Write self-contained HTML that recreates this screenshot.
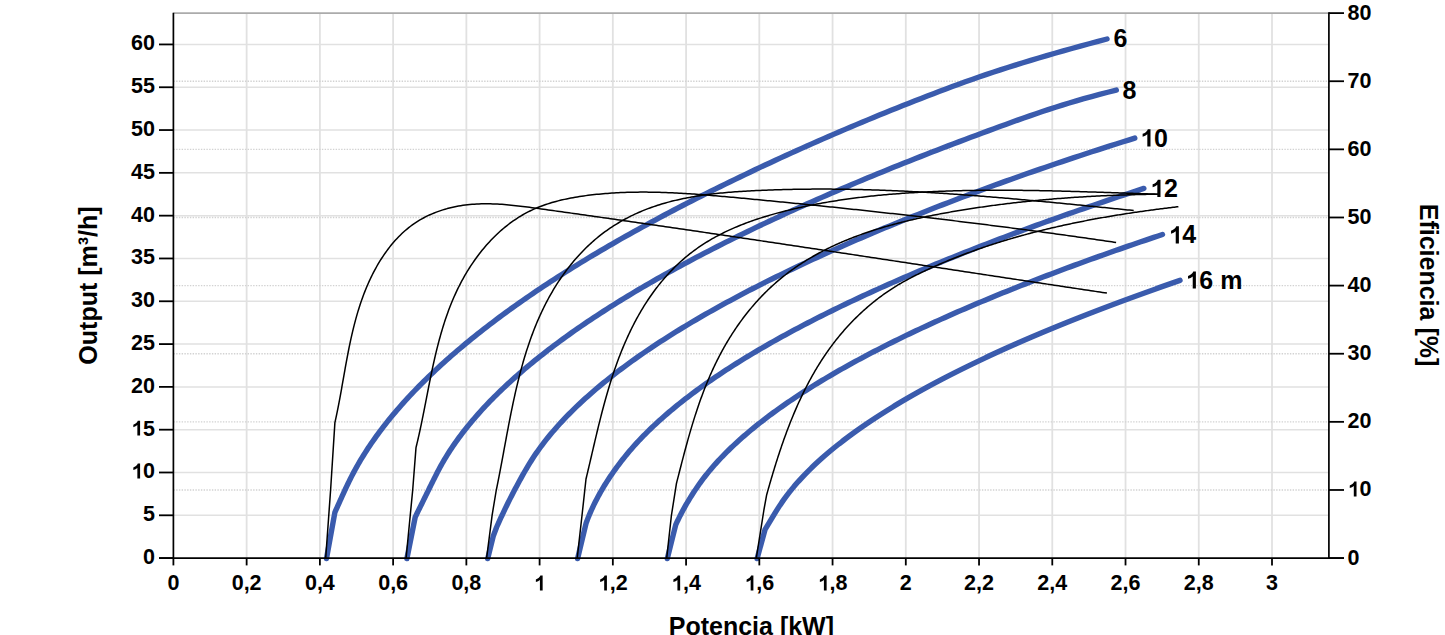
<!DOCTYPE html>
<html><head><meta charset="utf-8"><title>Chart</title><style>
html,body{margin:0;padding:0;background:#fff;overflow:hidden;}
svg{display:block;}
text{font-family:"Liberation Sans",sans-serif;font-weight:bold;fill:#000;}
.t{font-size:21.5px;}
.c{font-size:25px;}
.h{font-size:25px;}
.o1{fill-opacity:0;}
</style></head><body>
<svg width="1445" height="635" viewBox="0 0 1445 635">
<rect width="1445" height="635" fill="#fff"/>
<line x1="246.64" y1="13.10" x2="246.64" y2="558.10" stroke="#e1e1e1" stroke-width="1.8"/>
<line x1="319.88" y1="13.10" x2="319.88" y2="558.10" stroke="#e1e1e1" stroke-width="1.8"/>
<line x1="393.12" y1="13.10" x2="393.12" y2="558.10" stroke="#e1e1e1" stroke-width="1.8"/>
<line x1="466.36" y1="13.10" x2="466.36" y2="558.10" stroke="#e1e1e1" stroke-width="1.8"/>
<line x1="539.60" y1="13.10" x2="539.60" y2="558.10" stroke="#e1e1e1" stroke-width="1.8"/>
<line x1="612.84" y1="13.10" x2="612.84" y2="558.10" stroke="#e1e1e1" stroke-width="1.8"/>
<line x1="686.08" y1="13.10" x2="686.08" y2="558.10" stroke="#e1e1e1" stroke-width="1.8"/>
<line x1="759.32" y1="13.10" x2="759.32" y2="558.10" stroke="#e1e1e1" stroke-width="1.8"/>
<line x1="832.56" y1="13.10" x2="832.56" y2="558.10" stroke="#e1e1e1" stroke-width="1.8"/>
<line x1="905.80" y1="13.10" x2="905.80" y2="558.10" stroke="#e1e1e1" stroke-width="1.8"/>
<line x1="979.04" y1="13.10" x2="979.04" y2="558.10" stroke="#e1e1e1" stroke-width="1.8"/>
<line x1="1052.28" y1="13.10" x2="1052.28" y2="558.10" stroke="#e1e1e1" stroke-width="1.8"/>
<line x1="1125.52" y1="13.10" x2="1125.52" y2="558.10" stroke="#e1e1e1" stroke-width="1.8"/>
<line x1="1198.76" y1="13.10" x2="1198.76" y2="558.10" stroke="#e1e1e1" stroke-width="1.8"/>
<line x1="1272.00" y1="13.10" x2="1272.00" y2="558.10" stroke="#e1e1e1" stroke-width="1.8"/>
<line x1="173.40" y1="515.30" x2="1328.90" y2="515.30" stroke="#e1e1e1" stroke-width="1.5"/>
<line x1="173.40" y1="472.49" x2="1328.90" y2="472.49" stroke="#e1e1e1" stroke-width="1.5"/>
<line x1="173.40" y1="429.69" x2="1328.90" y2="429.69" stroke="#e1e1e1" stroke-width="1.5"/>
<line x1="173.40" y1="386.88" x2="1328.90" y2="386.88" stroke="#e1e1e1" stroke-width="1.5"/>
<line x1="173.40" y1="344.08" x2="1328.90" y2="344.08" stroke="#e1e1e1" stroke-width="1.5"/>
<line x1="173.40" y1="301.27" x2="1328.90" y2="301.27" stroke="#e1e1e1" stroke-width="1.5"/>
<line x1="173.40" y1="258.47" x2="1328.90" y2="258.47" stroke="#e1e1e1" stroke-width="1.5"/>
<line x1="173.40" y1="215.66" x2="1328.90" y2="215.66" stroke="#e1e1e1" stroke-width="1.5"/>
<line x1="173.40" y1="172.86" x2="1328.90" y2="172.86" stroke="#e1e1e1" stroke-width="1.5"/>
<line x1="173.40" y1="130.05" x2="1328.90" y2="130.05" stroke="#e1e1e1" stroke-width="1.5"/>
<line x1="173.40" y1="87.25" x2="1328.90" y2="87.25" stroke="#e1e1e1" stroke-width="1.5"/>
<line x1="173.40" y1="44.44" x2="1328.90" y2="44.44" stroke="#e1e1e1" stroke-width="1.5"/>
<line x1="173.40" y1="489.98" x2="1328.90" y2="489.98" stroke="#d2d2d2" stroke-width="1.3" stroke-dasharray="1.4 1.35"/>
<line x1="173.40" y1="421.85" x2="1328.90" y2="421.85" stroke="#d2d2d2" stroke-width="1.3" stroke-dasharray="1.4 1.35"/>
<line x1="173.40" y1="353.73" x2="1328.90" y2="353.73" stroke="#d2d2d2" stroke-width="1.3" stroke-dasharray="1.4 1.35"/>
<line x1="173.40" y1="285.60" x2="1328.90" y2="285.60" stroke="#d2d2d2" stroke-width="1.3" stroke-dasharray="1.4 1.35"/>
<line x1="173.40" y1="217.48" x2="1328.90" y2="217.48" stroke="#d2d2d2" stroke-width="1.3" stroke-dasharray="1.4 1.35"/>
<line x1="173.40" y1="149.35" x2="1328.90" y2="149.35" stroke="#d2d2d2" stroke-width="1.3" stroke-dasharray="1.4 1.35"/>
<line x1="173.40" y1="81.23" x2="1328.90" y2="81.23" stroke="#d2d2d2" stroke-width="1.3" stroke-dasharray="1.4 1.35"/>
<line x1="173.40" y1="13.10" x2="1328.90" y2="13.10" stroke="#ababab" stroke-width="1.6"/>
<path d="M326.50,558.60 L334.90,512.30 L335.97,509.92 L337.04,507.54 L338.11,505.16 L339.17,502.79 L340.24,500.41 L341.31,498.03 L342.38,495.65 L343.46,493.27 L344.56,490.89 L345.67,488.52 L346.80,486.14 L347.93,483.76 L349.09,481.38 L350.26,479.00 L351.45,476.62 L352.68,474.25 L353.94,471.87 L355.23,469.49 L356.55,467.11 L357.89,464.73 L359.27,462.35 L360.67,459.98 L362.11,457.60 L363.58,455.22 L365.07,452.84 L366.60,450.46 L368.15,448.08 L369.74,445.71 L371.35,443.33 L372.99,440.95 L374.67,438.57 L376.37,436.19 L378.10,433.81 L379.87,431.43 L381.66,429.06 L383.48,426.68 L385.33,424.30 L387.21,421.92 L389.12,419.54 L391.06,417.16 L393.03,414.79 L395.03,412.41 L397.06,410.03 L399.12,407.65 L401.21,405.27 L403.33,402.89 L405.48,400.52 L407.66,398.14 L409.87,395.76 L412.10,393.38 L414.37,391.00 L416.67,388.62 L418.99,386.25 L421.35,383.87 L423.74,381.49 L426.15,379.11 L428.60,376.73 L431.07,374.35 L433.58,371.97 L436.11,369.60 L438.68,367.22 L441.27,364.84 L443.89,362.46 L446.55,360.08 L449.23,357.70 L451.94,355.33 L454.69,352.95 L457.46,350.57 L460.26,348.19 L463.09,345.81 L465.95,343.43 L468.84,341.06 L471.76,338.68 L474.71,336.30 L477.69,333.92 L480.70,331.54 L483.74,329.16 L486.81,326.79 L489.91,324.41 L493.04,322.03 L496.20,319.65 L499.38,317.27 L502.60,314.89 L505.85,312.52 L509.12,310.14 L512.43,307.76 L515.77,305.38 L519.13,303.00 L522.53,300.62 L525.95,298.24 L529.41,295.87 L532.89,293.49 L536.41,291.11 L539.95,288.73 L543.53,286.35 L547.13,283.97 L550.76,281.60 L554.42,279.22 L558.12,276.84 L561.84,274.46 L565.59,272.08 L569.37,269.70 L573.18,267.33 L577.02,264.95 L580.90,262.57 L584.80,260.19 L588.73,257.81 L592.69,255.43 L596.67,253.06 L600.69,250.68 L604.74,248.30 L608.82,245.92 L612.93,243.54 L617.07,241.16 L621.23,238.78 L625.43,236.41 L629.66,234.03 L633.92,231.65 L638.20,229.27 L642.52,226.89 L646.86,224.51 L651.24,222.14 L655.64,219.76 L660.08,217.38 L664.54,215.00 L669.04,212.62 L673.56,210.24 L678.11,207.87 L682.70,205.49 L687.31,203.11 L691.95,200.73 L696.62,198.35 L701.33,195.97 L706.06,193.60 L710.82,191.22 L715.61,188.84 L720.43,186.46 L725.28,184.08 L730.16,181.70 L735.07,179.33 L740.01,176.95 L744.98,174.57 L749.98,172.19 L755.01,169.81 L760.07,167.43 L765.15,165.05 L770.27,162.68 L775.42,160.30 L780.60,157.92 L785.80,155.54 L791.04,153.16 L796.31,150.78 L801.60,148.41 L806.93,146.03 L812.28,143.65 L817.67,141.27 L823.08,138.89 L828.53,136.51 L834.01,134.14 L839.53,131.76 L845.09,129.38 L850.70,127.00 L856.34,124.62 L862.02,122.24 L867.75,119.87 L873.51,117.49 L879.32,115.11 L885.16,112.73 L891.05,110.35 L896.98,107.97 L902.94,105.59 L908.95,103.22 L915.00,100.84 L921.10,98.46 L927.24,96.08 L933.42,93.70 L939.65,91.32 L945.92,88.95 L952.26,86.57 L958.72,84.19 L965.31,81.81 L972.05,79.43 L978.91,77.05 L985.91,74.68 L993.04,72.30 L1000.31,69.92 L1007.71,67.54 L1015.25,65.16 L1022.92,62.78 L1030.73,60.41 L1038.67,58.03 L1046.74,55.65 L1054.95,53.27 L1063.29,50.89 L1071.77,48.51 L1080.38,46.14 L1089.13,43.76 L1098.01,41.38 L1107.02,39.00" fill="none" stroke="#3a5bad" stroke-width="5.4" stroke-linecap="round" stroke-linejoin="round"/>
<path d="M406.90,558.60 L415.20,517.10 L416.26,514.95 L417.31,512.81 L418.37,510.66 L419.43,508.52 L420.48,506.37 L421.54,504.23 L422.60,502.08 L423.65,499.93 L424.71,497.79 L425.77,495.64 L426.82,493.50 L427.88,491.35 L428.94,489.21 L430.00,487.06 L431.06,484.91 L432.12,482.77 L433.19,480.62 L434.26,478.48 L435.33,476.33 L436.41,474.19 L437.49,472.04 L438.61,469.89 L439.76,467.75 L440.94,465.60 L442.14,463.46 L443.38,461.31 L444.65,459.17 L445.94,457.02 L447.27,454.87 L448.62,452.73 L450.01,450.58 L451.42,448.44 L452.87,446.29 L454.34,444.15 L455.84,442.00 L457.38,439.85 L458.94,437.71 L460.53,435.56 L462.15,433.42 L463.81,431.27 L465.49,429.13 L467.20,426.98 L468.94,424.83 L470.71,422.69 L472.51,420.54 L474.34,418.40 L476.20,416.25 L478.09,414.11 L480.01,411.96 L481.96,409.81 L483.94,407.67 L485.95,405.52 L487.99,403.38 L490.05,401.23 L492.15,399.08 L494.28,396.94 L496.43,394.79 L498.62,392.65 L500.84,390.50 L503.08,388.36 L505.36,386.21 L507.66,384.06 L510.00,381.92 L512.36,379.77 L514.76,377.63 L517.18,375.48 L519.64,373.34 L522.12,371.19 L524.63,369.04 L527.17,366.90 L529.75,364.75 L532.35,362.61 L534.98,360.46 L537.64,358.32 L540.33,356.17 L543.05,354.02 L545.80,351.88 L548.59,349.73 L551.40,347.59 L554.23,345.44 L557.10,343.30 L560.00,341.15 L562.93,339.00 L565.89,336.86 L568.88,334.71 L571.90,332.57 L574.94,330.42 L578.02,328.28 L581.13,326.13 L584.26,323.98 L587.43,321.84 L590.63,319.69 L593.85,317.55 L597.11,315.40 L600.39,313.26 L603.71,311.11 L607.05,308.96 L610.42,306.82 L613.83,304.67 L617.26,302.53 L620.72,300.38 L624.22,298.24 L627.74,296.09 L631.29,293.94 L634.87,291.80 L638.49,289.65 L642.13,287.51 L645.80,285.36 L649.50,283.22 L653.23,281.07 L656.99,278.92 L660.78,276.78 L664.60,274.63 L668.45,272.49 L672.33,270.34 L676.23,268.20 L680.17,266.05 L684.14,263.90 L688.14,261.76 L692.16,259.61 L696.22,257.47 L700.31,255.32 L704.42,253.18 L708.57,251.03 L712.75,248.88 L716.95,246.74 L721.19,244.59 L725.45,242.45 L729.74,240.30 L734.07,238.16 L738.42,236.01 L742.81,233.86 L747.22,231.72 L751.66,229.57 L756.13,227.43 L760.64,225.28 L765.17,223.14 L769.73,220.99 L774.32,218.84 L778.94,216.70 L783.59,214.55 L788.27,212.41 L792.98,210.26 L797.72,208.12 L802.49,205.97 L807.29,203.82 L812.12,201.68 L816.98,199.53 L821.87,197.39 L826.78,195.24 L831.73,193.09 L836.71,190.95 L841.72,188.80 L846.75,186.66 L851.82,184.51 L856.91,182.37 L862.04,180.22 L867.19,178.07 L872.38,175.93 L877.59,173.78 L882.84,171.64 L888.11,169.49 L893.42,167.35 L898.75,165.20 L904.11,163.05 L909.51,160.91 L914.93,158.76 L920.38,156.62 L925.86,154.47 L931.37,152.33 L936.92,150.18 L942.49,148.03 L948.09,145.89 L953.72,143.74 L959.38,141.60 L965.07,139.45 L970.79,137.31 L976.54,135.16 L982.31,133.01 L988.12,130.87 L993.96,128.72 L999.83,126.58 L1005.73,124.43 L1011.65,122.29 L1017.61,120.14 L1023.62,117.99 L1029.76,115.85 L1036.01,113.70 L1042.39,111.56 L1048.89,109.41 L1055.52,107.27 L1062.26,105.12 L1069.19,102.97 L1076.37,100.83 L1083.83,98.68 L1091.55,96.54 L1099.53,94.39 L1107.78,92.25 L1116.30,90.10" fill="none" stroke="#3a5bad" stroke-width="5.4" stroke-linecap="round" stroke-linejoin="round"/>
<path d="M487.70,558.60 L493.20,536.30 L496.50,527.50 L497.36,525.54 L498.24,523.59 L499.12,521.63 L500.01,519.67 L500.91,517.72 L501.82,515.76 L502.74,513.80 L503.67,511.85 L504.60,509.89 L505.55,507.93 L506.50,505.98 L507.46,504.02 L508.43,502.06 L509.41,500.11 L510.40,498.15 L511.40,496.19 L512.40,494.23 L513.41,492.28 L514.44,490.32 L515.47,488.36 L516.51,486.41 L517.56,484.45 L518.62,482.49 L519.68,480.54 L520.76,478.58 L521.84,476.62 L522.94,474.67 L524.04,472.71 L525.17,470.75 L526.32,468.80 L527.48,466.84 L528.66,464.88 L529.86,462.93 L531.08,460.97 L532.33,459.01 L533.61,457.06 L534.91,455.10 L536.24,453.14 L537.61,451.19 L539.00,449.23 L540.42,447.27 L541.87,445.32 L543.35,443.36 L544.86,441.40 L546.40,439.44 L547.96,437.49 L549.56,435.53 L551.19,433.57 L552.84,431.62 L554.53,429.66 L556.24,427.70 L557.98,425.75 L559.75,423.79 L561.55,421.83 L563.38,419.88 L565.24,417.92 L567.13,415.96 L569.05,414.01 L571.00,412.05 L572.97,410.09 L574.98,408.14 L577.01,406.18 L579.07,404.22 L581.17,402.27 L583.29,400.31 L585.44,398.35 L587.62,396.40 L589.83,394.44 L592.07,392.48 L594.34,390.53 L596.63,388.57 L598.96,386.61 L601.32,384.65 L603.70,382.70 L606.11,380.74 L608.56,378.78 L611.03,376.83 L613.53,374.87 L616.06,372.91 L618.62,370.96 L621.21,369.00 L623.83,367.04 L626.48,365.09 L629.15,363.13 L631.86,361.17 L634.60,359.22 L637.36,357.26 L640.15,355.30 L642.98,353.35 L645.83,351.39 L648.71,349.43 L651.62,347.48 L654.56,345.52 L657.53,343.56 L660.53,341.61 L663.55,339.65 L666.61,337.69 L669.69,335.74 L672.81,333.78 L675.95,331.82 L679.13,329.86 L682.33,327.91 L685.56,325.95 L688.82,323.99 L692.11,322.04 L695.43,320.08 L698.78,318.12 L702.15,316.17 L705.56,314.21 L709.00,312.25 L712.46,310.30 L715.96,308.34 L719.48,306.38 L723.03,304.43 L726.61,302.47 L730.23,300.51 L733.87,298.56 L737.54,296.60 L741.23,294.64 L744.96,292.69 L748.72,290.73 L752.50,288.77 L756.32,286.82 L760.16,284.86 L764.04,282.90 L767.94,280.95 L771.87,278.99 L775.83,277.03 L779.83,275.07 L783.85,273.12 L787.89,271.16 L791.97,269.20 L796.08,267.25 L800.22,265.29 L804.38,263.33 L808.58,261.38 L812.80,259.42 L817.05,257.46 L821.34,255.51 L825.65,253.55 L829.99,251.59 L834.36,249.64 L838.76,247.68 L843.19,245.72 L847.65,243.77 L852.13,241.81 L856.65,239.85 L861.19,237.90 L865.77,235.94 L870.37,233.98 L875.01,232.03 L879.67,230.07 L884.36,228.11 L889.08,226.16 L893.83,224.20 L898.61,222.24 L903.42,220.28 L908.25,218.33 L913.12,216.37 L918.02,214.41 L922.94,212.46 L927.89,210.50 L932.88,208.54 L937.89,206.59 L942.93,204.63 L948.00,202.67 L953.10,200.72 L958.23,198.76 L963.39,196.80 L968.58,194.85 L973.79,192.89 L979.04,190.93 L984.33,188.98 L989.65,187.02 L995.00,185.06 L1000.40,183.11 L1005.83,181.15 L1011.30,179.19 L1016.81,177.24 L1022.35,175.28 L1027.93,173.32 L1033.55,171.37 L1039.21,169.41 L1044.90,167.45 L1050.63,165.49 L1056.40,163.54 L1062.20,161.58 L1068.04,159.62 L1073.92,157.67 L1079.84,155.71 L1085.79,153.75 L1091.78,151.80 L1097.81,149.84 L1103.88,147.88 L1109.98,145.93 L1116.12,143.97 L1122.30,142.01 L1128.51,140.06 L1134.76,138.10" fill="none" stroke="#3a5bad" stroke-width="5.4" stroke-linecap="round" stroke-linejoin="round"/>
<path d="M577.60,558.60 L586.10,523.20 L586.71,521.52 L587.35,519.84 L588.00,518.15 L588.68,516.47 L589.37,514.79 L590.08,513.11 L590.82,511.42 L591.57,509.74 L592.33,508.06 L593.12,506.38 L593.93,504.69 L594.75,503.01 L595.60,501.33 L596.46,499.65 L597.34,497.96 L598.25,496.28 L599.17,494.60 L600.10,492.92 L601.06,491.23 L602.04,489.55 L603.04,487.87 L604.05,486.19 L605.08,484.50 L606.14,482.82 L607.21,481.14 L608.30,479.46 L609.41,477.77 L610.54,476.09 L611.68,474.41 L612.85,472.73 L614.03,471.05 L615.24,469.36 L616.46,467.68 L617.70,466.00 L618.96,464.32 L620.24,462.63 L621.54,460.95 L622.86,459.27 L624.19,457.59 L625.55,455.90 L626.92,454.22 L628.32,452.54 L629.74,450.86 L631.18,449.17 L632.65,447.49 L634.14,445.81 L635.66,444.13 L637.20,442.44 L638.76,440.76 L640.35,439.08 L641.96,437.40 L643.60,435.71 L645.26,434.03 L646.94,432.35 L648.65,430.67 L650.38,428.98 L652.13,427.30 L653.91,425.62 L655.72,423.94 L657.54,422.26 L659.39,420.57 L661.27,418.89 L663.17,417.21 L665.09,415.53 L667.03,413.84 L669.00,412.16 L671.00,410.48 L673.02,408.80 L675.06,407.11 L677.12,405.43 L679.21,403.75 L681.32,402.07 L683.46,400.38 L685.62,398.70 L687.81,397.02 L690.02,395.34 L692.25,393.65 L694.51,391.97 L696.79,390.29 L699.09,388.61 L701.42,386.92 L703.77,385.24 L706.15,383.56 L708.55,381.88 L710.97,380.19 L713.42,378.51 L715.89,376.83 L718.38,375.15 L720.90,373.47 L723.45,371.78 L726.01,370.10 L728.60,368.42 L731.22,366.74 L733.86,365.05 L736.52,363.37 L739.21,361.69 L741.92,360.01 L744.65,358.32 L747.41,356.64 L750.19,354.96 L753.00,353.28 L755.83,351.59 L758.68,349.91 L761.56,348.23 L764.46,346.55 L767.38,344.86 L770.33,343.18 L773.31,341.50 L776.30,339.82 L779.32,338.13 L782.37,336.45 L785.44,334.77 L788.53,333.09 L791.65,331.41 L794.79,329.72 L797.95,328.04 L801.14,326.36 L804.35,324.68 L807.59,322.99 L810.85,321.31 L814.13,319.63 L817.44,317.95 L820.77,316.26 L824.12,314.58 L827.50,312.90 L830.91,311.22 L834.33,309.53 L837.78,307.85 L841.26,306.17 L844.76,304.49 L848.28,302.80 L851.82,301.12 L855.39,299.44 L858.99,297.76 L862.61,296.07 L866.25,294.39 L869.91,292.71 L873.60,291.03 L877.32,289.34 L881.05,287.66 L884.82,285.98 L888.60,284.30 L892.41,282.62 L896.24,280.93 L900.10,279.25 L903.98,277.57 L907.88,275.89 L911.81,274.20 L915.76,272.52 L919.74,270.84 L923.74,269.16 L927.76,267.47 L931.81,265.79 L935.88,264.11 L939.98,262.43 L944.10,260.74 L948.24,259.06 L952.41,257.38 L956.60,255.70 L960.82,254.01 L965.05,252.33 L969.32,250.65 L973.60,248.97 L977.91,247.28 L982.25,245.60 L986.61,243.92 L990.99,242.24 L995.39,240.55 L999.82,238.87 L1004.28,237.19 L1008.76,235.51 L1013.26,233.83 L1017.78,232.14 L1022.33,230.46 L1026.91,228.78 L1031.50,227.10 L1036.12,225.41 L1040.77,223.73 L1045.44,222.05 L1050.13,220.37 L1054.85,218.68 L1059.59,217.00 L1064.35,215.32 L1069.14,213.64 L1073.95,211.95 L1078.79,210.27 L1083.65,208.59 L1088.53,206.91 L1093.44,205.22 L1098.37,203.54 L1103.32,201.86 L1108.30,200.18 L1113.31,198.49 L1118.33,196.81 L1123.39,195.13 L1128.46,193.45 L1133.56,191.76 L1138.68,190.08 L1143.83,188.40" fill="none" stroke="#3a5bad" stroke-width="5.4" stroke-linecap="round" stroke-linejoin="round"/>
<path d="M667.30,558.60 L675.70,524.90 L676.36,523.44 L677.04,521.98 L677.73,520.52 L678.44,519.06 L679.16,517.60 L679.89,516.14 L680.63,514.68 L681.39,513.23 L682.16,511.77 L682.94,510.31 L683.74,508.85 L684.55,507.39 L685.37,505.93 L686.21,504.47 L687.06,503.01 L687.92,501.55 L688.80,500.09 L689.69,498.63 L690.59,497.17 L691.51,495.71 L692.43,494.25 L693.38,492.80 L694.33,491.34 L695.30,489.88 L696.28,488.42 L697.28,486.96 L698.29,485.50 L699.31,484.04 L700.36,482.58 L701.42,481.12 L702.51,479.66 L703.61,478.20 L704.73,476.74 L705.88,475.28 L707.04,473.82 L708.22,472.37 L709.42,470.91 L710.65,469.45 L711.89,467.99 L713.15,466.53 L714.43,465.07 L715.73,463.61 L717.05,462.15 L718.39,460.69 L719.74,459.23 L721.12,457.77 L722.52,456.31 L723.94,454.85 L725.37,453.39 L726.83,451.94 L728.30,450.48 L729.80,449.02 L731.31,447.56 L732.85,446.10 L734.40,444.64 L735.98,443.18 L737.57,441.72 L739.18,440.26 L740.82,438.80 L742.47,437.34 L744.14,435.88 L745.83,434.42 L747.54,432.96 L749.27,431.51 L751.02,430.05 L752.79,428.59 L754.58,427.13 L756.39,425.67 L758.21,424.21 L760.06,422.75 L761.93,421.29 L763.82,419.83 L765.72,418.37 L767.65,416.91 L769.59,415.45 L771.56,413.99 L773.54,412.53 L775.55,411.07 L777.57,409.62 L779.61,408.16 L781.68,406.70 L783.76,405.24 L785.86,403.78 L787.98,402.32 L790.12,400.86 L792.28,399.40 L794.46,397.94 L796.66,396.48 L798.88,395.02 L801.12,393.56 L803.38,392.10 L805.66,390.64 L807.96,389.19 L810.27,387.73 L812.61,386.27 L814.97,384.81 L817.34,383.35 L819.74,381.89 L822.15,380.43 L824.59,378.97 L827.04,377.51 L829.52,376.05 L832.01,374.59 L834.52,373.13 L837.06,371.67 L839.61,370.21 L842.18,368.76 L844.77,367.30 L847.38,365.84 L850.01,364.38 L852.66,362.92 L855.33,361.46 L858.02,360.00 L860.73,358.54 L863.46,357.08 L866.20,355.62 L868.97,354.16 L871.76,352.70 L874.57,351.24 L877.39,349.78 L880.24,348.33 L883.10,346.87 L885.99,345.41 L888.89,343.95 L891.81,342.49 L894.76,341.03 L897.72,339.57 L900.70,338.11 L903.71,336.65 L906.73,335.19 L909.77,333.73 L912.83,332.27 L915.91,330.81 L919.01,329.35 L922.13,327.89 L925.27,326.44 L928.43,324.98 L931.61,323.52 L934.80,322.06 L938.02,320.60 L941.26,319.14 L944.51,317.68 L947.79,316.22 L951.09,314.76 L954.40,313.30 L957.74,311.84 L961.09,310.38 L964.46,308.92 L967.86,307.46 L971.27,306.01 L974.70,304.55 L978.16,303.09 L981.63,301.63 L985.12,300.17 L988.63,298.71 L992.16,297.25 L995.71,295.79 L999.28,294.33 L1002.87,292.87 L1006.48,291.41 L1010.11,289.95 L1013.75,288.49 L1017.42,287.03 L1021.11,285.58 L1024.82,284.12 L1028.54,282.66 L1032.29,281.20 L1036.05,279.74 L1039.84,278.28 L1043.64,276.82 L1047.47,275.36 L1051.31,273.90 L1055.17,272.44 L1059.06,270.98 L1062.96,269.52 L1066.88,268.06 L1070.82,266.60 L1074.78,265.15 L1078.76,263.69 L1082.76,262.23 L1086.78,260.77 L1090.82,259.31 L1094.88,257.85 L1098.96,256.39 L1103.06,254.93 L1107.17,253.47 L1111.31,252.01 L1115.47,250.55 L1119.64,249.09 L1123.84,247.63 L1128.06,246.17 L1132.29,244.72 L1136.55,243.26 L1140.82,241.80 L1145.11,240.34 L1149.43,238.88 L1153.76,237.42 L1158.11,235.96 L1162.48,234.50" fill="none" stroke="#3a5bad" stroke-width="5.4" stroke-linecap="round" stroke-linejoin="round"/>
<path d="M757.10,558.60 L765.00,529.70 L765.76,528.45 L766.51,527.19 L767.27,525.94 L768.02,524.69 L768.78,523.44 L769.53,522.18 L770.29,520.93 L771.04,519.68 L771.80,518.43 L772.55,517.17 L773.31,515.92 L774.07,514.67 L774.82,513.41 L775.58,512.16 L776.35,510.91 L777.14,509.66 L777.93,508.40 L778.73,507.15 L779.54,505.90 L780.37,504.64 L781.21,503.39 L782.06,502.14 L782.93,500.89 L783.81,499.63 L784.71,498.38 L785.63,497.13 L786.56,495.88 L787.51,494.62 L788.47,493.37 L789.45,492.12 L790.45,490.86 L791.46,489.61 L792.48,488.36 L793.52,487.11 L794.58,485.85 L795.65,484.60 L796.74,483.35 L797.85,482.09 L798.97,480.84 L800.10,479.59 L801.25,478.34 L802.42,477.08 L803.60,475.83 L804.80,474.58 L806.01,473.33 L807.24,472.07 L808.49,470.82 L809.75,469.57 L811.03,468.31 L812.32,467.06 L813.63,465.81 L814.95,464.56 L816.29,463.30 L817.64,462.05 L819.01,460.80 L820.40,459.55 L821.80,458.29 L823.22,457.04 L824.65,455.79 L826.10,454.53 L827.57,453.28 L829.05,452.03 L830.54,450.78 L832.06,449.52 L833.58,448.27 L835.13,447.02 L836.69,445.76 L838.26,444.51 L839.85,443.26 L841.46,442.01 L843.08,440.75 L844.71,439.50 L846.37,438.25 L848.04,437.00 L849.72,435.74 L851.42,434.49 L853.13,433.24 L854.87,431.98 L856.61,430.73 L858.38,429.48 L860.15,428.23 L861.95,426.97 L863.76,425.72 L865.58,424.47 L867.42,423.22 L869.28,421.96 L871.15,420.71 L873.04,419.46 L874.94,418.20 L876.86,416.95 L878.80,415.70 L880.75,414.45 L882.71,413.19 L884.70,411.94 L886.69,410.69 L888.71,409.43 L890.74,408.18 L892.78,406.93 L894.84,405.68 L896.92,404.42 L899.01,403.17 L901.12,401.92 L903.24,400.67 L905.38,399.41 L907.53,398.16 L909.70,396.91 L911.89,395.65 L914.09,394.40 L916.31,393.15 L918.54,391.90 L920.79,390.64 L923.05,389.39 L925.33,388.14 L927.63,386.88 L929.94,385.63 L932.26,384.38 L934.61,383.13 L936.96,381.87 L939.34,380.62 L941.73,379.37 L944.13,378.12 L946.55,376.86 L948.99,375.61 L951.44,374.36 L953.91,373.10 L956.39,371.85 L958.89,370.60 L961.41,369.35 L963.94,368.09 L966.48,366.84 L969.05,365.59 L971.62,364.34 L974.22,363.08 L976.82,361.83 L979.45,360.58 L982.09,359.32 L984.75,358.07 L987.42,356.82 L990.10,355.57 L992.81,354.31 L995.53,353.06 L998.26,351.81 L1001.01,350.55 L1003.78,349.30 L1006.56,348.05 L1009.35,346.80 L1012.17,345.54 L1014.99,344.29 L1017.84,343.04 L1020.70,341.79 L1023.57,340.53 L1026.46,339.28 L1029.37,338.03 L1032.29,336.77 L1035.23,335.52 L1038.19,334.27 L1041.15,333.02 L1044.14,331.76 L1047.14,330.51 L1050.16,329.26 L1053.19,328.01 L1056.24,326.75 L1059.30,325.50 L1062.38,324.25 L1065.47,322.99 L1068.58,321.74 L1071.71,320.49 L1074.85,319.24 L1078.01,317.98 L1081.18,316.73 L1084.37,315.48 L1087.58,314.22 L1090.80,312.97 L1094.03,311.72 L1097.28,310.47 L1100.55,309.21 L1103.83,307.96 L1107.13,306.71 L1110.45,305.46 L1113.78,304.20 L1117.12,302.95 L1120.48,301.70 L1123.86,300.44 L1127.25,299.19 L1130.66,297.94 L1134.08,296.69 L1137.52,295.43 L1140.98,294.18 L1144.45,292.93 L1147.94,291.67 L1151.44,290.42 L1154.96,289.17 L1158.49,287.92 L1162.04,286.66 L1165.60,285.41 L1169.18,284.16 L1172.78,282.91 L1176.39,281.65 L1180.02,280.40" fill="none" stroke="#3a5bad" stroke-width="5.4" stroke-linecap="round" stroke-linejoin="round"/>
<path d="M325.70,558.10 L330.60,490.00 L334.90,422.60 L335.40,420.37 L335.89,418.14 L336.37,415.90 L336.84,413.65 L337.30,411.41 L337.75,409.16 L338.20,406.90 L338.64,404.65 L339.07,402.39 L339.50,400.12 L339.92,397.86 L340.34,395.59 L340.75,393.32 L341.16,391.05 L341.57,388.77 L341.97,386.49 L342.37,384.22 L342.77,381.94 L343.18,379.65 L343.58,377.37 L343.98,375.09 L344.38,372.81 L344.79,370.52 L345.20,368.24 L345.61,365.96 L346.02,363.67 L346.44,361.39 L346.86,359.11 L347.29,356.83 L347.73,354.54 L348.17,352.26 L348.61,349.99 L349.07,347.71 L349.54,345.44 L350.01,343.16 L350.49,340.89 L350.98,338.62 L351.49,336.36 L352.00,334.10 L352.53,331.84 L353.07,329.58 L353.62,327.33 L354.19,325.08 L354.77,322.83 L355.36,320.59 L355.97,318.35 L356.60,316.12 L357.24,313.89 L357.90,311.66 L358.58,309.45 L359.28,307.23 L359.99,305.02 L360.73,302.82 L361.48,300.62 L362.25,298.43 L363.05,296.25 L363.87,294.07 L364.71,291.89 L365.57,289.73 L366.46,287.57 L367.37,285.42 L368.31,283.27 L369.27,281.14 L370.26,279.01 L371.27,276.90 L372.31,274.79 L373.37,272.70 L374.46,270.62 L375.57,268.56 L376.71,266.51 L377.88,264.48 L379.07,262.47 L380.29,260.47 L381.54,258.50 L382.81,256.55 L384.11,254.62 L385.44,252.71 L386.80,250.83 L388.18,248.97 L389.59,247.14 L391.03,245.34 L392.50,243.57 L393.99,241.82 L395.52,240.11 L397.07,238.43 L398.65,236.78 L400.26,235.16 L401.90,233.58 L403.56,232.04 L405.26,230.53 L406.99,229.06 L408.74,227.63 L410.53,226.25 L412.35,224.90 L414.19,223.59 L416.07,222.33 L417.98,221.11 L419.92,219.94 L421.88,218.81 L423.87,217.73 L425.89,216.69 L427.93,215.69 L430.00,214.74 L432.09,213.82 L434.20,212.95 L436.33,212.13 L438.48,211.34 L440.64,210.60 L442.83,209.89 L445.02,209.23 L447.23,208.60 L449.46,208.02 L451.69,207.48 L453.94,206.97 L456.19,206.51 L458.45,206.08 L460.72,205.69 L462.99,205.34 L465.27,205.03 L467.55,204.75 L469.83,204.51 L472.12,204.31 L474.40,204.14 L476.69,204.01 L478.98,203.90 L481.28,203.83 L483.57,203.78 L485.87,203.77 L488.16,203.78 L490.46,203.82 L492.76,203.88 L495.06,203.97 L497.36,204.08 L499.67,204.21 L501.97,204.36 L504.28,204.54 L506.58,204.72 L508.89,204.93 L511.20,205.15 L513.51,205.39 L515.82,205.64 L518.12,205.90 L520.43,206.17 L522.74,206.46 L525.05,206.75 L527.37,207.05 L529.68,207.35 L531.99,207.67 L534.30,207.98 L536.61,208.30 L538.92,208.62 L541.23,208.94 L543.53,209.26 L545.84,209.58 L548.15,209.90 L550.46,210.23 L552.77,210.55 L555.07,210.87 L557.38,211.19 L559.69,211.52 L561.99,211.84 L564.30,212.16 L566.60,212.49 L568.91,212.81 L571.21,213.13 L573.52,213.46 L575.82,213.78 L578.13,214.11 L580.43,214.44 L582.73,214.76 L585.04,215.09 L587.34,215.41 L589.64,215.74 L591.94,216.07 L594.24,216.39 L596.54,216.72 L598.84,217.05 L601.14,217.38 L603.44,217.70 L605.74,218.03 L608.04,218.36 L610.34,218.69 L612.64,219.02 L614.94,219.35 L617.24,219.68 L619.54,220.01 L621.83,220.34 L624.13,220.67 L626.43,221.00 L628.73,221.33 L631.02,221.66 L633.32,221.99 L635.61,222.32 L637.91,222.66 L640.21,222.99 L642.50,223.32 L644.80,223.65 L647.09,223.99 L649.39,224.32 L651.68,224.65 L653.97,224.99 L656.27,225.32 L658.56,225.65 L660.85,225.99 L663.15,226.32 L665.44,226.66 L667.73,226.99 L670.02,227.32 L672.32,227.66 L674.61,228.00 L676.90,228.33 L679.19,228.67 L681.48,229.00 L683.77,229.34 L686.06,229.67 L688.36,230.01 L690.65,230.35 L692.94,230.68 L695.23,231.02 L697.52,231.36 L699.80,231.70 L702.09,232.03 L704.38,232.37 L706.67,232.71 L708.96,233.05 L711.25,233.39 L713.54,233.72 L715.83,234.06 L718.11,234.40 L720.40,234.74 L722.69,235.08 L724.98,235.42 L727.27,235.76 L729.55,236.10 L731.84,236.44 L734.13,236.78 L736.41,237.12 L738.70,237.46 L740.99,237.80 L743.27,238.14 L745.56,238.48 L747.85,238.82 L750.13,239.16 L752.42,239.50 L754.70,239.84 L756.99,240.19 L759.27,240.53 L761.56,240.87 L763.85,241.21 L766.13,241.55 L768.42,241.89 L770.70,242.24 L772.99,242.58 L775.27,242.92 L777.55,243.26 L779.84,243.61 L782.12,243.95 L784.41,244.29 L786.69,244.64 L788.98,244.98 L791.26,245.32 L793.54,245.67 L795.83,246.01 L798.11,246.35 L800.40,246.70 L802.68,247.04 L804.96,247.39 L807.25,247.73 L809.53,248.07 L811.81,248.42 L814.10,248.76 L816.38,249.11 L818.66,249.45 L820.95,249.80 L823.23,250.14 L825.51,250.49 L827.80,250.83 L830.08,251.18 L832.36,251.52 L834.65,251.87 L836.93,252.21 L839.21,252.56 L841.49,252.91 L843.78,253.25 L846.06,253.60 L848.34,253.94 L850.63,254.29 L852.91,254.63 L855.19,254.98 L857.48,255.33 L859.76,255.67 L862.04,256.02 L864.32,256.37 L866.61,256.71 L868.89,257.06 L871.17,257.40 L873.46,257.75 L875.74,258.10 L878.02,258.44 L880.30,258.79 L882.59,259.14 L884.87,259.48 L887.15,259.83 L889.44,260.18 L891.72,260.53 L894.00,260.87 L896.29,261.22 L898.57,261.57 L900.85,261.91 L903.14,262.26 L905.42,262.61 L907.70,262.96 L909.99,263.30 L912.27,263.65 L914.55,264.00 L916.84,264.34 L919.12,264.69 L921.41,265.04 L923.69,265.39 L925.97,265.73 L928.26,266.08 L930.54,266.43 L932.83,266.78 L935.11,267.12 L937.40,267.47 L939.68,267.82 L941.96,268.17 L944.25,268.51 L946.53,268.86 L948.82,269.21 L951.10,269.56 L953.39,269.90 L955.67,270.25 L957.96,270.60 L960.25,270.95 L962.53,271.29 L964.82,271.64 L967.10,271.99 L969.39,272.34 L971.68,272.68 L973.96,273.03 L976.25,273.38 L978.54,273.73 L980.82,274.07 L983.11,274.42 L985.40,274.77 L987.68,275.12 L989.97,275.46 L992.26,275.81 L994.55,276.16 L996.83,276.50 L999.12,276.85 L1001.41,277.20 L1003.70,277.55 L1005.99,277.89 L1008.28,278.24 L1010.56,278.59 L1012.85,278.93 L1015.14,279.28 L1017.43,279.63 L1019.72,279.97 L1022.01,280.32 L1024.30,280.67 L1026.59,281.01 L1028.88,281.36 L1031.17,281.71 L1033.46,282.05 L1035.76,282.40 L1038.05,282.75 L1040.34,283.09 L1042.63,283.44 L1044.92,283.79 L1047.21,284.13 L1049.51,284.48 L1051.80,284.82 L1054.09,285.17 L1056.39,285.51 L1058.68,285.86 L1060.97,286.21 L1063.27,286.55 L1065.56,286.90 L1067.86,287.24 L1070.15,287.59 L1072.45,287.93 L1074.74,288.28 L1077.04,288.62 L1079.33,288.97 L1081.63,289.31 L1083.92,289.66 L1086.22,290.00 L1088.52,290.35 L1090.81,290.69 L1093.11,291.04 L1095.41,291.38 L1097.71,291.72 L1100.00,292.07 L1102.30,292.41 L1104.60,292.76 L1106.90,293.10" fill="none" stroke="#000" stroke-width="1.5" stroke-linejoin="round"/>
<path d="M406.10,558.10 L412.70,490.00 L416.00,447.60 L416.51,445.52 L417.01,443.44 L417.50,441.36 L417.99,439.27 L418.46,437.18 L418.94,435.08 L419.40,432.99 L419.86,430.88 L420.31,428.78 L420.76,426.67 L421.21,424.56 L421.64,422.44 L422.08,420.32 L422.51,418.20 L422.94,416.08 L423.36,413.96 L423.79,411.83 L424.21,409.70 L424.63,407.57 L425.04,405.44 L425.46,403.31 L425.88,401.18 L426.29,399.04 L426.71,396.91 L427.12,394.77 L427.54,392.63 L427.96,390.50 L428.38,388.36 L428.80,386.22 L429.23,384.09 L429.65,381.95 L430.08,379.81 L430.52,377.68 L430.95,375.54 L431.40,373.41 L431.84,371.27 L432.29,369.14 L432.75,367.01 L433.21,364.88 L433.68,362.76 L434.16,360.63 L434.64,358.51 L435.13,356.39 L435.63,354.27 L436.13,352.15 L436.65,350.04 L437.17,347.93 L437.70,345.82 L438.24,343.72 L438.79,341.62 L439.35,339.52 L439.93,337.43 L440.51,335.34 L441.10,333.25 L441.71,331.17 L442.33,329.09 L442.96,327.02 L443.60,324.95 L444.26,322.89 L444.93,320.83 L445.62,318.77 L446.32,316.73 L447.03,314.68 L447.76,312.65 L448.51,310.61 L449.27,308.59 L450.05,306.57 L450.84,304.56 L451.65,302.55 L452.48,300.55 L453.33,298.56 L454.19,296.57 L455.08,294.59 L455.98,292.62 L456.90,290.65 L457.84,288.70 L458.80,286.75 L459.79,284.81 L460.79,282.87 L461.81,280.95 L462.86,279.03 L463.92,277.13 L465.01,275.23 L466.11,273.35 L467.24,271.47 L468.38,269.61 L469.55,267.77 L470.73,265.93 L471.94,264.11 L473.16,262.30 L474.41,260.51 L475.67,258.73 L476.96,256.97 L478.26,255.22 L479.58,253.49 L480.93,251.78 L482.29,250.08 L483.67,248.40 L485.07,246.75 L486.50,245.11 L487.93,243.49 L489.39,241.89 L490.87,240.31 L492.37,238.76 L493.89,237.22 L495.42,235.71 L496.97,234.22 L498.55,232.76 L500.14,231.31 L501.75,229.90 L503.38,228.51 L505.02,227.14 L506.69,225.80 L508.37,224.49 L510.07,223.20 L511.79,221.94 L513.53,220.71 L515.29,219.51 L517.06,218.34 L518.86,217.20 L520.67,216.08 L522.49,215.00 L524.34,213.95 L526.20,212.93 L528.09,211.95 L529.98,211.00 L531.90,210.08 L533.83,209.19 L535.78,208.34 L537.75,207.51 L539.73,206.72 L541.73,205.96 L543.74,205.23 L545.76,204.52 L547.79,203.85 L549.84,203.20 L551.90,202.58 L553.97,201.98 L556.05,201.41 L558.14,200.86 L560.24,200.34 L562.35,199.84 L564.46,199.36 L566.59,198.90 L568.72,198.46 L570.85,198.05 L572.99,197.65 L575.14,197.27 L577.29,196.91 L579.44,196.57 L581.60,196.24 L583.76,195.93 L585.92,195.63 L588.08,195.35 L590.24,195.08 L592.41,194.82 L594.57,194.58 L596.73,194.35 L598.90,194.13 L601.06,193.93 L603.23,193.73 L605.39,193.55 L607.56,193.38 L609.72,193.22 L611.88,193.08 L614.05,192.94 L616.21,192.81 L618.38,192.70 L620.54,192.60 L622.71,192.50 L624.87,192.42 L627.04,192.35 L629.20,192.29 L631.37,192.23 L633.54,192.19 L635.70,192.15 L637.87,192.13 L640.03,192.11 L642.20,192.11 L644.36,192.11 L646.53,192.12 L648.70,192.14 L650.86,192.16 L653.03,192.20 L655.19,192.24 L657.36,192.29 L659.53,192.34 L661.69,192.41 L663.86,192.48 L666.02,192.56 L668.19,192.64 L670.35,192.73 L672.52,192.83 L674.69,192.93 L676.85,193.04 L679.02,193.16 L681.18,193.28 L683.35,193.40 L685.51,193.53 L687.68,193.67 L689.84,193.81 L692.01,193.96 L694.18,194.11 L696.34,194.26 L698.50,194.42 L700.67,194.58 L702.83,194.75 L705.00,194.92 L707.16,195.09 L709.33,195.27 L711.49,195.45 L713.66,195.63 L715.82,195.81 L717.98,196.00 L720.15,196.19 L722.31,196.38 L724.47,196.57 L726.64,196.77 L728.80,196.97 L730.96,197.17 L733.12,197.37 L735.29,197.57 L737.45,197.77 L739.61,197.97 L741.77,198.17 L743.93,198.37 L746.09,198.58 L748.25,198.78 L750.42,198.99 L752.58,199.19 L754.74,199.40 L756.90,199.60 L759.06,199.81 L761.22,200.02 L763.38,200.22 L765.53,200.43 L767.69,200.64 L769.85,200.85 L772.01,201.06 L774.17,201.27 L776.33,201.48 L778.49,201.69 L780.64,201.90 L782.80,202.11 L784.96,202.32 L787.12,202.53 L789.27,202.75 L791.43,202.96 L793.59,203.18 L795.74,203.39 L797.90,203.61 L800.06,203.82 L802.21,204.04 L804.37,204.25 L806.52,204.47 L808.68,204.69 L810.83,204.91 L812.99,205.13 L815.14,205.35 L817.30,205.57 L819.45,205.79 L821.61,206.01 L823.76,206.23 L825.92,206.45 L828.07,206.67 L830.23,206.90 L832.38,207.12 L834.53,207.34 L836.69,207.57 L838.84,207.79 L840.99,208.02 L843.15,208.25 L845.30,208.47 L847.45,208.70 L849.61,208.93 L851.76,209.16 L853.91,209.39 L856.06,209.62 L858.21,209.85 L860.37,210.08 L862.52,210.31 L864.67,210.54 L866.82,210.78 L868.97,211.01 L871.13,211.24 L873.28,211.48 L875.43,211.71 L877.58,211.95 L879.73,212.19 L881.88,212.42 L884.03,212.66 L886.18,212.90 L888.33,213.14 L890.48,213.38 L892.63,213.62 L894.78,213.86 L896.94,214.10 L899.09,214.34 L901.24,214.59 L903.39,214.83 L905.54,215.07 L907.69,215.32 L909.83,215.56 L911.98,215.81 L914.13,216.06 L916.28,216.30 L918.43,216.55 L920.58,216.80 L922.73,217.05 L924.88,217.30 L927.03,217.55 L929.18,217.80 L931.33,218.05 L933.48,218.31 L935.63,218.56 L937.77,218.81 L939.92,219.07 L942.07,219.32 L944.22,219.58 L946.37,219.84 L948.52,220.09 L950.67,220.35 L952.82,220.61 L954.96,220.87 L957.11,221.13 L959.26,221.39 L961.41,221.65 L963.56,221.91 L965.70,222.18 L967.85,222.44 L970.00,222.71 L972.15,222.97 L974.30,223.24 L976.45,223.50 L978.59,223.77 L980.74,224.04 L982.89,224.31 L985.04,224.58 L987.19,224.85 L989.33,225.12 L991.48,225.39 L993.63,225.66 L995.78,225.93 L997.93,226.21 L1000.07,226.48 L1002.22,226.76 L1004.37,227.04 L1006.52,227.31 L1008.66,227.59 L1010.81,227.87 L1012.96,228.15 L1015.11,228.43 L1017.26,228.71 L1019.40,228.99 L1021.55,229.27 L1023.70,229.56 L1025.85,229.84 L1028.00,230.12 L1030.14,230.41 L1032.29,230.70 L1034.44,230.98 L1036.59,231.27 L1038.74,231.56 L1040.88,231.85 L1043.03,232.14 L1045.18,232.43 L1047.33,232.72 L1049.48,233.01 L1051.63,233.31 L1053.77,233.60 L1055.92,233.90 L1058.07,234.19 L1060.22,234.49 L1062.37,234.79 L1064.52,235.09 L1066.66,235.38 L1068.81,235.68 L1070.96,235.99 L1073.11,236.29 L1075.26,236.59 L1077.41,236.89 L1079.56,237.20 L1081.71,237.50 L1083.86,237.81 L1086.00,238.11 L1088.15,238.42 L1090.30,238.73 L1092.45,239.04 L1094.60,239.35 L1096.75,239.66 L1098.90,239.97 L1101.05,240.29 L1103.20,240.60 L1105.35,240.91 L1107.50,241.23 L1109.65,241.55 L1111.80,241.86 L1113.95,242.18 L1116.10,242.50" fill="none" stroke="#000" stroke-width="1.5" stroke-linejoin="round"/>
<path d="M486.60,558.10 L492.10,515.30 L496.30,490.00 L496.71,488.03 L497.11,486.06 L497.51,484.09 L497.91,482.11 L498.30,480.13 L498.70,478.14 L499.09,476.15 L499.47,474.16 L499.86,472.16 L500.24,470.16 L500.62,468.15 L501.00,466.15 L501.38,464.14 L501.76,462.12 L502.13,460.10 L502.51,458.08 L502.88,456.06 L503.26,454.03 L503.63,452.01 L504.01,449.98 L504.38,447.94 L504.76,445.91 L505.13,443.87 L505.51,441.83 L505.89,439.79 L506.27,437.75 L506.65,435.71 L507.03,433.67 L507.41,431.62 L507.80,429.57 L508.19,427.53 L508.58,425.48 L508.97,423.43 L509.37,421.38 L509.77,419.33 L510.17,417.28 L510.58,415.23 L510.99,413.18 L511.41,411.13 L511.83,409.08 L512.25,407.03 L512.68,404.99 L513.11,402.94 L513.55,400.89 L513.99,398.85 L514.44,396.80 L514.89,394.76 L515.35,392.71 L515.82,390.67 L516.29,388.63 L516.77,386.60 L517.26,384.56 L517.75,382.53 L518.25,380.49 L518.75,378.46 L519.27,376.44 L519.79,374.41 L520.32,372.39 L520.86,370.37 L521.40,368.35 L521.95,366.34 L522.52,364.33 L523.09,362.32 L523.67,360.32 L524.26,358.32 L524.86,356.32 L525.47,354.33 L526.09,352.34 L526.72,350.35 L527.36,348.37 L528.01,346.40 L528.67,344.43 L529.34,342.46 L530.02,340.49 L530.72,338.54 L531.42,336.58 L532.14,334.63 L532.87,332.69 L533.61,330.75 L534.37,328.82 L535.14,326.90 L535.91,324.97 L536.71,323.06 L537.51,321.15 L538.33,319.25 L539.17,317.35 L540.01,315.46 L540.87,313.58 L541.75,311.70 L542.64,309.83 L543.54,307.96 L544.46,306.11 L545.39,304.26 L546.34,302.42 L547.31,300.58 L548.29,298.75 L549.28,296.93 L550.30,295.12 L551.32,293.32 L552.36,291.52 L553.42,289.74 L554.50,287.96 L555.59,286.20 L556.69,284.44 L557.81,282.70 L558.95,280.96 L560.10,279.24 L561.26,277.53 L562.45,275.83 L563.64,274.14 L564.86,272.46 L566.08,270.80 L567.33,269.14 L568.59,267.51 L569.86,265.88 L571.15,264.27 L572.46,262.67 L573.78,261.09 L575.11,259.52 L576.46,257.97 L577.83,256.43 L579.21,254.91 L580.61,253.40 L582.02,251.91 L583.45,250.44 L584.89,248.98 L586.35,247.54 L587.83,246.12 L589.31,244.71 L590.82,243.33 L592.34,241.96 L593.87,240.61 L595.42,239.28 L596.99,237.97 L598.57,236.67 L600.16,235.40 L601.77,234.15 L603.40,232.92 L605.04,231.71 L606.69,230.52 L608.36,229.34 L610.04,228.19 L611.74,227.06 L613.45,225.95 L615.17,224.86 L616.90,223.79 L618.65,222.74 L620.41,221.71 L622.18,220.70 L623.96,219.71 L625.75,218.74 L627.55,217.79 L629.37,216.86 L631.19,215.95 L633.02,215.06 L634.87,214.19 L636.72,213.34 L638.58,212.51 L640.45,211.70 L642.33,210.91 L644.22,210.14 L646.11,209.39 L648.01,208.67 L649.92,207.96 L651.84,207.27 L653.77,206.59 L655.70,205.94 L657.64,205.31 L659.59,204.69 L661.54,204.09 L663.50,203.51 L665.47,202.94 L667.44,202.39 L669.42,201.86 L671.40,201.35 L673.39,200.85 L675.39,200.36 L677.39,199.90 L679.40,199.44 L681.41,199.00 L683.43,198.58 L685.45,198.17 L687.47,197.77 L689.51,197.39 L691.54,197.02 L693.58,196.67 L695.63,196.32 L697.67,195.99 L699.73,195.67 L701.78,195.37 L703.84,195.07 L705.90,194.79 L707.97,194.51 L710.04,194.25 L712.11,194.00 L714.18,193.76 L716.26,193.52 L718.34,193.30 L720.42,193.09 L722.50,192.88 L724.59,192.69 L726.67,192.50 L728.76,192.32 L730.85,192.15 L732.94,191.98 L735.04,191.83 L737.13,191.68 L739.22,191.53 L741.32,191.40 L743.42,191.26 L745.51,191.14 L747.61,191.02 L749.70,190.90 L751.80,190.79 L753.90,190.69 L755.99,190.59 L758.09,190.49 L760.18,190.40 L762.28,190.31 L764.37,190.22 L766.46,190.14 L768.55,190.06 L770.64,189.98 L772.73,189.91 L774.82,189.84 L776.91,189.77 L779.00,189.70 L781.08,189.64 L783.17,189.59 L785.26,189.53 L787.34,189.48 L789.42,189.44 L791.51,189.39 L793.59,189.35 L795.67,189.31 L797.75,189.28 L799.83,189.24 L801.91,189.22 L803.99,189.19 L806.07,189.17 L808.15,189.15 L810.22,189.13 L812.30,189.12 L814.37,189.10 L816.45,189.10 L818.52,189.09 L820.60,189.09 L822.67,189.09 L824.74,189.09 L826.82,189.10 L828.89,189.11 L830.96,189.12 L833.03,189.13 L835.10,189.15 L837.17,189.17 L839.24,189.19 L841.30,189.22 L843.37,189.25 L845.44,189.28 L847.51,189.31 L849.57,189.35 L851.64,189.38 L853.70,189.42 L855.77,189.47 L857.83,189.51 L859.90,189.56 L861.96,189.61 L864.02,189.67 L866.08,189.72 L868.15,189.78 L870.21,189.84 L872.27,189.90 L874.33,189.97 L876.39,190.04 L878.45,190.11 L880.51,190.18 L882.57,190.25 L884.63,190.33 L886.69,190.41 L888.75,190.49 L890.81,190.58 L892.86,190.66 L894.92,190.75 L896.98,190.84 L899.04,190.93 L901.09,191.03 L903.15,191.12 L905.21,191.22 L907.26,191.32 L909.32,191.42 L911.37,191.53 L913.43,191.64 L915.48,191.74 L917.54,191.86 L919.59,191.97 L921.65,192.08 L923.70,192.20 L925.75,192.32 L927.81,192.44 L929.86,192.56 L931.92,192.68 L933.97,192.81 L936.02,192.94 L938.07,193.06 L940.13,193.20 L942.18,193.33 L944.23,193.46 L946.29,193.60 L948.34,193.74 L950.39,193.88 L952.44,194.02 L954.49,194.16 L956.55,194.30 L958.60,194.45 L960.65,194.60 L962.70,194.74 L964.76,194.89 L966.81,195.05 L968.86,195.20 L970.91,195.35 L972.96,195.51 L975.01,195.67 L977.07,195.83 L979.12,195.99 L981.17,196.15 L983.22,196.31 L985.28,196.48 L987.33,196.64 L989.38,196.81 L991.43,196.98 L993.48,197.15 L995.54,197.32 L997.59,197.49 L999.64,197.66 L1001.70,197.84 L1003.75,198.01 L1005.80,198.19 L1007.85,198.36 L1009.91,198.54 L1011.96,198.72 L1014.02,198.90 L1016.07,199.09 L1018.12,199.27 L1020.18,199.45 L1022.23,199.64 L1024.29,199.82 L1026.34,200.01 L1028.40,200.20 L1030.45,200.38 L1032.51,200.57 L1034.56,200.76 L1036.62,200.95 L1038.68,201.15 L1040.73,201.34 L1042.79,201.53 L1044.85,201.73 L1046.91,201.92 L1048.96,202.12 L1051.02,202.31 L1053.08,202.51 L1055.14,202.71 L1057.20,202.90 L1059.26,203.10 L1061.32,203.30 L1063.38,203.50 L1065.44,203.70 L1067.50,203.90 L1069.56,204.10 L1071.62,204.31 L1073.68,204.51 L1075.75,204.71 L1077.81,204.91 L1079.87,205.12 L1081.94,205.32 L1084.00,205.53 L1086.07,205.73 L1088.13,205.94 L1090.20,206.14 L1092.26,206.35 L1094.33,206.55 L1096.40,206.76 L1098.47,206.97 L1100.53,207.17 L1102.60,207.38 L1104.67,207.59 L1106.74,207.80 L1108.81,208.00 L1110.88,208.21 L1112.95,208.42 L1115.03,208.63 L1117.10,208.84 L1119.17,209.04 L1121.25,209.25 L1123.32,209.46 L1125.39,209.67 L1127.47,209.88 L1129.55,210.08 L1131.62,210.29 L1133.70,210.50" fill="none" stroke="#000" stroke-width="1.5" stroke-linejoin="round"/>
<path d="M577.20,558.10 L582.00,515.50 L586.00,479.00 L586.43,477.21 L586.86,475.41 L587.29,473.62 L587.71,471.83 L588.13,470.04 L588.56,468.25 L588.98,466.45 L589.40,464.66 L589.82,462.87 L590.23,461.08 L590.65,459.29 L591.07,457.50 L591.49,455.72 L591.90,453.93 L592.32,452.14 L592.74,450.35 L593.15,448.57 L593.57,446.78 L593.99,445.00 L594.41,443.21 L594.83,441.43 L595.25,439.65 L595.67,437.87 L596.09,436.08 L596.52,434.31 L596.94,432.53 L597.37,430.75 L597.80,428.97 L598.24,427.19 L598.67,425.42 L599.11,423.65 L599.55,421.87 L599.99,420.10 L600.44,418.33 L600.88,416.56 L601.34,414.79 L601.79,413.03 L602.25,411.26 L602.71,409.49 L603.18,407.73 L603.65,405.97 L604.12,404.21 L604.60,402.45 L605.08,400.69 L605.57,398.94 L606.06,397.18 L606.56,395.43 L607.06,393.68 L607.57,391.93 L608.09,390.18 L608.60,388.43 L609.13,386.69 L609.66,384.95 L610.19,383.21 L610.74,381.47 L611.29,379.73 L611.84,378.00 L612.40,376.26 L612.97,374.53 L613.55,372.80 L614.13,371.08 L614.72,369.35 L615.32,367.63 L615.92,365.91 L616.53,364.20 L617.15,362.48 L617.78,360.77 L618.42,359.06 L619.06,357.35 L619.72,355.65 L620.38,353.94 L621.05,352.25 L621.73,350.55 L622.42,348.85 L623.12,347.16 L623.83,345.47 L624.55,343.79 L625.27,342.11 L626.01,340.43 L626.76,338.75 L627.51,337.08 L628.28,335.41 L629.06,333.74 L629.85,332.08 L630.64,330.43 L631.45,328.77 L632.27,327.13 L633.10,325.49 L633.94,323.85 L634.79,322.22 L635.66,320.59 L636.53,318.97 L637.41,317.35 L638.31,315.75 L639.21,314.14 L640.13,312.55 L641.06,310.96 L642.00,309.38 L642.95,307.80 L643.92,306.23 L644.89,304.67 L645.88,303.12 L646.88,301.57 L647.89,300.03 L648.92,298.51 L649.95,296.98 L651.00,295.47 L652.06,293.97 L653.13,292.47 L654.22,290.99 L655.32,289.51 L656.43,288.05 L657.55,286.59 L658.69,285.14 L659.84,283.70 L661.00,282.28 L662.18,280.86 L663.37,279.46 L664.57,278.06 L665.78,276.68 L667.01,275.31 L668.25,273.95 L669.50,272.60 L670.76,271.26 L672.03,269.94 L673.32,268.63 L674.62,267.33 L675.93,266.05 L677.25,264.77 L678.59,263.52 L679.93,262.27 L681.29,261.04 L682.66,259.82 L684.04,258.62 L685.43,257.43 L686.84,256.26 L688.25,255.10 L689.68,253.96 L691.11,252.84 L692.56,251.72 L694.02,250.63 L695.49,249.55 L696.97,248.49 L698.46,247.44 L699.96,246.41 L701.47,245.40 L702.99,244.40 L704.53,243.41 L706.07,242.44 L707.62,241.49 L709.17,240.55 L710.74,239.63 L712.32,238.72 L713.91,237.82 L715.50,236.94 L717.10,236.07 L718.72,235.22 L720.33,234.38 L721.96,233.55 L723.60,232.74 L725.24,231.94 L726.89,231.15 L728.55,230.37 L730.21,229.61 L731.88,228.86 L733.56,228.12 L735.24,227.40 L736.93,226.69 L738.63,225.98 L740.33,225.29 L742.04,224.61 L743.75,223.95 L745.47,223.29 L747.19,222.64 L748.92,222.01 L750.65,221.38 L752.39,220.77 L754.14,220.16 L755.88,219.57 L757.64,218.98 L759.39,218.41 L761.15,217.84 L762.91,217.28 L764.68,216.74 L766.45,216.20 L768.22,215.67 L770.00,215.15 L771.78,214.63 L773.56,214.13 L775.34,213.63 L777.13,213.14 L778.91,212.66 L780.70,212.19 L782.50,211.72 L784.29,211.26 L786.08,210.81 L787.88,210.36 L789.67,209.92 L791.47,209.49 L793.27,209.06 L795.07,208.64 L796.87,208.23 L798.67,207.82 L800.47,207.42 L802.27,207.03 L804.08,206.64 L805.88,206.26 L807.69,205.88 L809.49,205.51 L811.30,205.14 L813.11,204.79 L814.92,204.43 L816.73,204.09 L818.54,203.75 L820.35,203.41 L822.16,203.08 L823.97,202.76 L825.79,202.44 L827.60,202.13 L829.42,201.82 L831.23,201.52 L833.05,201.22 L834.86,200.93 L836.68,200.64 L838.50,200.36 L840.32,200.08 L842.14,199.81 L843.96,199.55 L845.78,199.29 L847.60,199.03 L849.42,198.78 L851.24,198.53 L853.07,198.29 L854.89,198.05 L856.71,197.82 L858.54,197.59 L860.36,197.37 L862.19,197.15 L864.01,196.94 L865.84,196.73 L867.67,196.52 L869.49,196.32 L871.32,196.12 L873.15,195.93 L874.98,195.74 L876.81,195.56 L878.64,195.37 L880.47,195.20 L882.30,195.03 L884.13,194.86 L885.96,194.69 L887.79,194.53 L889.62,194.37 L891.45,194.22 L893.28,194.07 L895.11,193.92 L896.95,193.78 L898.78,193.64 L900.61,193.50 L902.44,193.36 L904.28,193.23 L906.11,193.11 L907.95,192.98 L909.78,192.86 L911.61,192.75 L913.45,192.63 L915.28,192.52 L917.12,192.41 L918.95,192.30 L920.79,192.20 L922.62,192.10 L924.46,192.01 L926.29,191.91 L928.13,191.82 L929.96,191.73 L931.80,191.65 L933.63,191.57 L935.47,191.49 L937.31,191.41 L939.14,191.33 L940.98,191.26 L942.82,191.19 L944.65,191.13 L946.49,191.06 L948.33,191.00 L950.16,190.94 L952.00,190.89 L953.84,190.84 L955.68,190.78 L957.51,190.74 L959.35,190.69 L961.19,190.65 L963.03,190.60 L964.87,190.56 L966.70,190.53 L968.54,190.49 L970.38,190.46 L972.22,190.43 L974.06,190.40 L975.90,190.38 L977.74,190.35 L979.57,190.33 L981.41,190.31 L983.25,190.30 L985.09,190.28 L986.93,190.27 L988.77,190.26 L990.61,190.25 L992.45,190.24 L994.29,190.24 L996.13,190.23 L997.97,190.23 L999.81,190.23 L1001.65,190.23 L1003.49,190.24 L1005.33,190.24 L1007.17,190.25 L1009.01,190.26 L1010.85,190.27 L1012.69,190.28 L1014.53,190.30 L1016.37,190.31 L1018.21,190.33 L1020.05,190.35 L1021.89,190.37 L1023.73,190.39 L1025.57,190.41 L1027.41,190.44 L1029.25,190.46 L1031.09,190.49 L1032.93,190.52 L1034.77,190.55 L1036.61,190.58 L1038.45,190.61 L1040.29,190.65 L1042.13,190.68 L1043.97,190.72 L1045.81,190.76 L1047.65,190.79 L1049.50,190.83 L1051.34,190.87 L1053.18,190.92 L1055.02,190.96 L1056.86,191.00 L1058.70,191.05 L1060.54,191.09 L1062.38,191.14 L1064.22,191.19 L1066.06,191.24 L1067.90,191.29 L1069.74,191.34 L1071.58,191.39 L1073.42,191.44 L1075.26,191.49 L1077.10,191.55 L1078.94,191.60 L1080.78,191.65 L1082.62,191.71 L1084.46,191.77 L1086.30,191.82 L1088.14,191.88 L1089.98,191.94 L1091.82,191.99 L1093.66,192.05 L1095.50,192.11 L1097.34,192.17 L1099.18,192.23 L1101.02,192.29 L1102.86,192.35 L1104.70,192.41 L1106.54,192.47 L1108.38,192.54 L1110.22,192.60 L1112.06,192.66 L1113.90,192.72 L1115.73,192.78 L1117.57,192.85 L1119.41,192.91 L1121.25,192.97 L1123.09,193.03 L1124.93,193.10 L1126.77,193.16 L1128.60,193.22 L1130.44,193.29 L1132.28,193.35 L1134.12,193.41 L1135.96,193.47 L1137.79,193.53 L1139.63,193.60 L1141.47,193.66 L1143.31,193.72 L1145.14,193.78 L1146.98,193.84 L1148.82,193.90 L1150.65,193.96 L1152.49,194.02 L1154.33,194.08 L1156.16,194.14 L1158.00,194.20" fill="none" stroke="#000" stroke-width="1.5" stroke-linejoin="round"/>
<path d="M666.70,558.10 L671.40,515.50 L676.50,483.20 L676.89,481.68 L677.28,480.16 L677.67,478.63 L678.06,477.11 L678.45,475.59 L678.84,474.07 L679.23,472.55 L679.62,471.02 L680.01,469.50 L680.40,467.98 L680.79,466.46 L681.18,464.94 L681.58,463.42 L681.97,461.90 L682.37,460.38 L682.77,458.86 L683.16,457.34 L683.56,455.82 L683.97,454.30 L684.37,452.79 L684.77,451.27 L685.18,449.75 L685.59,448.24 L686.00,446.72 L686.41,445.21 L686.83,443.70 L687.25,442.18 L687.67,440.67 L688.09,439.16 L688.51,437.65 L688.94,436.14 L689.37,434.64 L689.80,433.13 L690.24,431.62 L690.68,430.12 L691.12,428.62 L691.57,427.11 L692.02,425.61 L692.47,424.11 L692.93,422.62 L693.39,421.12 L693.85,419.62 L694.32,418.13 L694.80,416.64 L695.27,415.14 L695.75,413.66 L696.24,412.17 L696.73,410.68 L697.22,409.20 L697.72,407.71 L698.22,406.23 L698.73,404.75 L699.24,403.27 L699.76,401.80 L700.28,400.32 L700.81,398.85 L701.35,397.38 L701.89,395.91 L702.43,394.44 L702.98,392.98 L703.54,391.51 L704.10,390.05 L704.67,388.59 L705.24,387.14 L705.82,385.68 L706.40,384.23 L707.00,382.78 L707.60,381.34 L708.20,379.89 L708.81,378.45 L709.43,377.01 L710.05,375.57 L710.68,374.14 L711.32,372.70 L711.97,371.27 L712.62,369.85 L713.28,368.42 L713.94,367.00 L714.61,365.59 L715.29,364.17 L715.98,362.76 L716.67,361.35 L717.37,359.95 L718.08,358.55 L718.79,357.15 L719.51,355.75 L720.24,354.36 L720.98,352.97 L721.73,351.59 L722.48,350.21 L723.24,348.83 L724.01,347.46 L724.78,346.09 L725.57,344.72 L726.36,343.36 L727.16,342.00 L727.96,340.65 L728.78,339.30 L729.60,337.96 L730.44,336.61 L731.28,335.28 L732.13,333.94 L732.98,332.62 L733.85,331.29 L734.72,329.97 L735.61,328.66 L736.50,327.35 L737.40,326.04 L738.30,324.74 L739.22,323.45 L740.15,322.16 L741.08,320.87 L742.02,319.60 L742.97,318.32 L743.93,317.05 L744.89,315.79 L745.87,314.54 L746.85,313.29 L747.84,312.05 L748.84,310.81 L749.84,309.58 L750.86,308.36 L751.88,307.14 L752.91,305.93 L753.94,304.73 L754.99,303.53 L756.04,302.35 L757.09,301.17 L758.16,300.00 L759.23,298.83 L760.31,297.68 L761.40,296.53 L762.49,295.39 L763.60,294.26 L764.70,293.14 L765.82,292.02 L766.94,290.92 L768.07,289.82 L769.21,288.73 L770.35,287.66 L771.50,286.59 L772.66,285.53 L773.82,284.48 L774.99,283.44 L776.16,282.41 L777.34,281.39 L778.53,280.38 L779.73,279.38 L780.93,278.39 L782.14,277.41 L783.35,276.44 L784.57,275.47 L785.79,274.52 L787.02,273.57 L788.26,272.64 L789.50,271.71 L790.75,270.79 L792.01,269.89 L793.27,268.99 L794.53,268.09 L795.80,267.21 L797.08,266.34 L798.36,265.47 L799.65,264.62 L800.95,263.77 L802.24,262.93 L803.55,262.10 L804.86,261.28 L806.17,260.46 L807.49,259.66 L808.82,258.86 L810.15,258.07 L811.48,257.29 L812.82,256.51 L814.16,255.75 L815.51,254.99 L816.87,254.24 L818.23,253.50 L819.59,252.76 L820.96,252.04 L822.33,251.32 L823.71,250.61 L825.09,249.90 L826.47,249.21 L827.86,248.52 L829.26,247.84 L830.66,247.16 L832.06,246.49 L833.47,245.83 L834.88,245.18 L836.29,244.54 L837.71,243.90 L839.13,243.26 L840.56,242.64 L841.99,242.02 L843.42,241.41 L844.86,240.81 L846.30,240.21 L847.75,239.62 L849.20,239.03 L850.65,238.45 L852.10,237.88 L853.56,237.32 L855.03,236.76 L856.49,236.21 L857.96,235.66 L859.43,235.12 L860.91,234.58 L862.39,234.06 L863.87,233.53 L865.35,233.02 L866.84,232.51 L868.33,232.00 L869.82,231.51 L871.32,231.01 L872.81,230.52 L874.31,230.04 L875.82,229.57 L877.32,229.10 L878.83,228.63 L880.34,228.17 L881.85,227.72 L883.37,227.27 L884.89,226.82 L886.41,226.38 L887.93,225.95 L889.45,225.52 L890.98,225.10 L892.51,224.68 L894.04,224.26 L895.57,223.86 L897.10,223.45 L898.64,223.05 L900.18,222.66 L901.72,222.27 L903.26,221.88 L904.80,221.50 L906.34,221.12 L907.89,220.75 L909.43,220.38 L910.98,220.02 L912.53,219.66 L914.08,219.30 L915.63,218.95 L917.19,218.60 L918.74,218.26 L920.30,217.92 L921.85,217.58 L923.41,217.25 L924.97,216.92 L926.53,216.59 L928.09,216.27 L929.65,215.95 L931.21,215.64 L932.77,215.33 L934.33,215.02 L935.89,214.72 L937.46,214.42 L939.02,214.12 L940.58,213.83 L942.15,213.54 L943.71,213.25 L945.28,212.96 L946.84,212.68 L948.41,212.40 L949.97,212.12 L951.54,211.85 L953.10,211.58 L954.67,211.31 L956.23,211.05 L957.79,210.78 L959.36,210.52 L960.92,210.26 L962.49,210.01 L964.05,209.75 L965.61,209.50 L967.17,209.25 L968.74,209.01 L970.30,208.76 L971.86,208.52 L973.42,208.28 L974.98,208.05 L976.54,207.81 L978.10,207.58 L979.66,207.35 L981.22,207.12 L982.78,206.90 L984.34,206.67 L985.90,206.45 L987.46,206.24 L989.02,206.02 L990.58,205.81 L992.13,205.59 L993.69,205.38 L995.25,205.18 L996.81,204.97 L998.37,204.77 L999.92,204.57 L1001.48,204.37 L1003.04,204.17 L1004.60,203.98 L1006.15,203.79 L1007.71,203.60 L1009.27,203.41 L1010.82,203.23 L1012.38,203.04 L1013.94,202.86 L1015.49,202.68 L1017.05,202.51 L1018.61,202.33 L1020.16,202.16 L1021.72,201.99 L1023.27,201.82 L1024.83,201.65 L1026.39,201.49 L1027.94,201.33 L1029.50,201.17 L1031.06,201.01 L1032.61,200.85 L1034.17,200.70 L1035.73,200.55 L1037.28,200.40 L1038.84,200.25 L1040.40,200.10 L1041.95,199.96 L1043.51,199.82 L1045.07,199.68 L1046.62,199.54 L1048.18,199.40 L1049.74,199.27 L1051.30,199.13 L1052.85,199.00 L1054.41,198.87 L1055.97,198.75 L1057.53,198.62 L1059.09,198.50 L1060.64,198.38 L1062.20,198.26 L1063.76,198.14 L1065.32,198.03 L1066.88,197.91 L1068.44,197.80 L1070.00,197.69 L1071.56,197.58 L1073.12,197.48 L1074.68,197.37 L1076.24,197.27 L1077.80,197.17 L1079.37,197.07 L1080.93,196.97 L1082.49,196.88 L1084.05,196.78 L1085.61,196.69 L1087.18,196.60 L1088.74,196.51 L1090.30,196.43 L1091.87,196.34 L1093.43,196.26 L1095.00,196.18 L1096.56,196.10 L1098.13,196.02 L1099.69,195.94 L1101.26,195.87 L1102.83,195.79 L1104.40,195.72 L1105.96,195.65 L1107.53,195.58 L1109.10,195.52 L1110.67,195.45 L1112.24,195.39 L1113.81,195.32 L1115.38,195.26 L1116.95,195.20 L1118.52,195.15 L1120.09,195.09 L1121.67,195.04 L1123.24,194.98 L1124.81,194.93 L1126.39,194.88 L1127.96,194.84 L1129.54,194.79 L1131.11,194.74 L1132.69,194.70 L1134.27,194.66 L1135.84,194.62 L1137.42,194.58 L1139.00,194.54 L1140.58,194.50 L1142.16,194.47 L1143.74,194.44 L1145.32,194.40 L1146.91,194.37 L1148.49,194.34 L1150.07,194.32 L1151.66,194.29 L1153.24,194.27 L1154.83,194.24 L1156.41,194.22 L1158.00,194.20" fill="none" stroke="#000" stroke-width="1.5" stroke-linejoin="round"/>
<path d="M756.30,558.10 L763.90,510.00 L766.60,495.10 L766.96,493.79 L767.33,492.48 L767.70,491.17 L768.07,489.86 L768.44,488.55 L768.81,487.24 L769.18,485.93 L769.56,484.62 L769.94,483.31 L770.32,482.00 L770.70,480.69 L771.08,479.37 L771.47,478.06 L771.86,476.75 L772.25,475.44 L772.64,474.12 L773.03,472.81 L773.43,471.50 L773.83,470.19 L774.23,468.87 L774.63,467.56 L775.03,466.25 L775.44,464.94 L775.85,463.63 L776.26,462.32 L776.68,461.01 L777.10,459.70 L777.51,458.39 L777.94,457.08 L778.36,455.77 L778.79,454.46 L779.22,453.15 L779.65,451.84 L780.09,450.54 L780.53,449.23 L780.97,447.93 L781.41,446.62 L781.86,445.32 L782.31,444.02 L782.76,442.72 L783.22,441.42 L783.68,440.12 L784.14,438.82 L784.61,437.52 L785.08,436.23 L785.55,434.93 L786.02,433.64 L786.50,432.35 L786.98,431.05 L787.47,429.76 L787.96,428.48 L788.45,427.19 L788.95,425.90 L789.45,424.62 L789.95,423.34 L790.45,422.06 L790.96,420.78 L791.48,419.50 L791.99,418.22 L792.52,416.95 L793.04,415.68 L793.57,414.41 L794.10,413.14 L794.64,411.87 L795.18,410.61 L795.72,409.34 L796.27,408.08 L796.82,406.83 L797.38,405.57 L797.94,404.31 L798.51,403.06 L799.07,401.81 L799.65,400.56 L800.22,399.32 L800.81,398.08 L801.39,396.84 L801.98,395.60 L802.58,394.36 L803.18,393.13 L803.78,391.90 L804.39,390.67 L805.00,389.44 L805.62,388.22 L806.24,387.00 L806.87,385.78 L807.50,384.57 L808.14,383.36 L808.78,382.15 L809.42,380.94 L810.07,379.74 L810.73,378.54 L811.39,377.34 L812.06,376.15 L812.73,374.96 L813.40,373.77 L814.08,372.59 L814.77,371.41 L815.46,370.23 L816.16,369.05 L816.86,367.88 L817.57,366.71 L818.28,365.55 L819.00,364.39 L819.72,363.23 L820.45,362.08 L821.18,360.93 L821.92,359.78 L822.67,358.64 L823.42,357.50 L824.17,356.37 L824.93,355.23 L825.70,354.11 L826.47,352.98 L827.25,351.86 L828.04,350.75 L828.83,349.64 L829.63,348.53 L830.43,347.42 L831.24,346.32 L832.05,345.23 L832.87,344.14 L833.70,343.05 L834.53,341.97 L835.37,340.89 L836.21,339.82 L837.07,338.75 L837.92,337.68 L838.79,336.62 L839.66,335.56 L840.53,334.51 L841.41,333.47 L842.30,332.42 L843.19,331.39 L844.09,330.36 L845.00,329.33 L845.91,328.31 L846.83,327.29 L847.75,326.28 L848.68,325.27 L849.62,324.27 L850.56,323.27 L851.51,322.28 L852.46,321.29 L853.42,320.31 L854.38,319.34 L855.35,318.37 L856.33,317.40 L857.31,316.44 L858.29,315.49 L859.28,314.54 L860.28,313.60 L861.29,312.67 L862.29,311.74 L863.31,310.81 L864.33,309.90 L865.35,308.98 L866.38,308.08 L867.42,307.18 L868.46,306.29 L869.50,305.40 L870.55,304.52 L871.61,303.64 L872.67,302.78 L873.74,301.91 L874.81,301.06 L875.89,300.21 L876.97,299.37 L878.05,298.53 L879.15,297.71 L880.24,296.89 L881.35,296.07 L882.45,295.26 L883.56,294.46 L884.68,293.67 L885.80,292.88 L886.93,292.10 L888.06,291.33 L889.19,290.57 L890.33,289.81 L891.48,289.06 L892.63,288.32 L893.78,287.58 L894.94,286.85 L896.11,286.13 L897.27,285.42 L898.45,284.71 L899.62,284.02 L900.81,283.33 L901.99,282.64 L903.18,281.97 L904.37,281.29 L905.57,280.63 L906.77,279.97 L907.97,279.32 L909.18,278.68 L910.39,278.04 L911.61,277.40 L912.82,276.77 L914.04,276.15 L915.26,275.53 L916.49,274.92 L917.72,274.31 L918.95,273.71 L920.18,273.11 L921.41,272.51 L922.65,271.92 L923.89,271.33 L925.13,270.75 L926.37,270.17 L927.61,269.59 L928.86,269.02 L930.11,268.45 L931.35,267.88 L932.60,267.32 L933.86,266.76 L935.11,266.20 L936.36,265.65 L937.62,265.09 L938.87,264.55 L940.13,264.00 L941.39,263.46 L942.65,262.92 L943.92,262.39 L945.18,261.86 L946.44,261.33 L947.71,260.80 L948.98,260.28 L950.25,259.76 L951.52,259.24 L952.79,258.73 L954.06,258.22 L955.34,257.71 L956.61,257.21 L957.89,256.71 L959.17,256.21 L960.45,255.71 L961.73,255.22 L963.01,254.73 L964.29,254.24 L965.58,253.76 L966.86,253.28 L968.15,252.80 L969.44,252.33 L970.73,251.85 L972.02,251.38 L973.31,250.92 L974.60,250.46 L975.89,249.99 L977.19,249.54 L978.48,249.08 L979.78,248.63 L981.08,248.18 L982.38,247.73 L983.68,247.29 L984.98,246.85 L986.28,246.41 L987.59,245.98 L988.89,245.54 L990.20,245.11 L991.50,244.69 L992.81,244.26 L994.12,243.84 L995.43,243.42 L996.74,243.01 L998.05,242.59 L999.36,242.18 L1000.67,241.77 L1001.99,241.37 L1003.30,240.96 L1004.62,240.56 L1005.94,240.16 L1007.25,239.77 L1008.57,239.38 L1009.89,238.99 L1011.21,238.60 L1012.53,238.21 L1013.85,237.83 L1015.18,237.45 L1016.50,237.07 L1017.83,236.70 L1019.15,236.33 L1020.48,235.96 L1021.80,235.59 L1023.13,235.22 L1024.46,234.86 L1025.79,234.50 L1027.12,234.14 L1028.45,233.79 L1029.78,233.43 L1031.11,233.08 L1032.45,232.73 L1033.78,232.39 L1035.11,232.04 L1036.45,231.70 L1037.78,231.36 L1039.12,231.03 L1040.46,230.69 L1041.79,230.36 L1043.13,230.03 L1044.47,229.70 L1045.81,229.38 L1047.15,229.05 L1048.49,228.73 L1049.83,228.42 L1051.17,228.10 L1052.52,227.79 L1053.86,227.47 L1055.20,227.16 L1056.55,226.86 L1057.89,226.55 L1059.23,226.25 L1060.58,225.95 L1061.93,225.65 L1063.27,225.35 L1064.62,225.06 L1065.97,224.76 L1067.31,224.47 L1068.66,224.18 L1070.01,223.90 L1071.36,223.61 L1072.71,223.33 L1074.06,223.05 L1075.41,222.77 L1076.76,222.50 L1078.11,222.22 L1079.46,221.95 L1080.81,221.68 L1082.16,221.41 L1083.52,221.15 L1084.87,220.88 L1086.22,220.62 L1087.57,220.36 L1088.93,220.10 L1090.28,219.84 L1091.64,219.59 L1092.99,219.34 L1094.34,219.08 L1095.70,218.83 L1097.05,218.59 L1098.41,218.34 L1099.76,218.10 L1101.12,217.86 L1102.48,217.62 L1103.83,217.38 L1105.19,217.14 L1106.54,216.91 L1107.90,216.67 L1109.26,216.44 L1110.61,216.21 L1111.97,215.98 L1113.33,215.76 L1114.68,215.53 L1116.04,215.31 L1117.40,215.09 L1118.76,214.87 L1120.11,214.65 L1121.47,214.44 L1122.83,214.22 L1124.19,214.01 L1125.54,213.80 L1126.90,213.59 L1128.26,213.38 L1129.62,213.17 L1130.97,212.97 L1132.33,212.77 L1133.69,212.56 L1135.05,212.36 L1136.40,212.17 L1137.76,211.97 L1139.12,211.77 L1140.48,211.58 L1141.83,211.39 L1143.19,211.19 L1144.55,211.00 L1145.90,210.82 L1147.26,210.63 L1148.62,210.44 L1149.97,210.26 L1151.33,210.08 L1152.68,209.90 L1154.04,209.72 L1155.40,209.54 L1156.75,209.36 L1158.11,209.18 L1159.46,209.01 L1160.82,208.84 L1162.17,208.66 L1163.52,208.49 L1164.88,208.32 L1166.23,208.16 L1167.58,207.99 L1168.94,207.82 L1170.29,207.66 L1171.64,207.50 L1172.99,207.33 L1174.35,207.17 L1175.70,207.01 L1177.05,206.86 L1178.40,206.70" fill="none" stroke="#000" stroke-width="1.5" stroke-linejoin="round"/>
<line x1="173.40" y1="12.80" x2="173.40" y2="558.10" stroke="#000" stroke-width="1.7"/>
<line x1="1328.90" y1="12.30" x2="1328.90" y2="558.10" stroke="#000" stroke-width="1.7"/>
<line x1="159" y1="558.10" x2="1344" y2="558.10" stroke="#000" stroke-width="1.9"/>
<line x1="159" y1="558.10" x2="173.40" y2="558.10" stroke="#000" stroke-width="1.8"/>
<line x1="159" y1="515.30" x2="173.40" y2="515.30" stroke="#000" stroke-width="1.8"/>
<line x1="159" y1="472.49" x2="173.40" y2="472.49" stroke="#000" stroke-width="1.8"/>
<line x1="159" y1="429.69" x2="173.40" y2="429.69" stroke="#000" stroke-width="1.8"/>
<line x1="159" y1="386.88" x2="173.40" y2="386.88" stroke="#000" stroke-width="1.8"/>
<line x1="159" y1="344.08" x2="173.40" y2="344.08" stroke="#000" stroke-width="1.8"/>
<line x1="159" y1="301.27" x2="173.40" y2="301.27" stroke="#000" stroke-width="1.8"/>
<line x1="159" y1="258.47" x2="173.40" y2="258.47" stroke="#000" stroke-width="1.8"/>
<line x1="159" y1="215.66" x2="173.40" y2="215.66" stroke="#000" stroke-width="1.8"/>
<line x1="159" y1="172.86" x2="173.40" y2="172.86" stroke="#000" stroke-width="1.8"/>
<line x1="159" y1="130.05" x2="173.40" y2="130.05" stroke="#000" stroke-width="1.8"/>
<line x1="159" y1="87.25" x2="173.40" y2="87.25" stroke="#000" stroke-width="1.8"/>
<line x1="159" y1="44.44" x2="173.40" y2="44.44" stroke="#000" stroke-width="1.8"/>
<line x1="1328.90" y1="558.10" x2="1344" y2="558.10" stroke="#000" stroke-width="1.8"/>
<line x1="1328.90" y1="489.98" x2="1344" y2="489.98" stroke="#000" stroke-width="1.8"/>
<line x1="1328.90" y1="421.85" x2="1344" y2="421.85" stroke="#000" stroke-width="1.8"/>
<line x1="1328.90" y1="353.73" x2="1344" y2="353.73" stroke="#000" stroke-width="1.8"/>
<line x1="1328.90" y1="285.60" x2="1344" y2="285.60" stroke="#000" stroke-width="1.8"/>
<line x1="1328.90" y1="217.48" x2="1344" y2="217.48" stroke="#000" stroke-width="1.8"/>
<line x1="1328.90" y1="149.35" x2="1344" y2="149.35" stroke="#000" stroke-width="1.8"/>
<line x1="1328.90" y1="81.23" x2="1344" y2="81.23" stroke="#000" stroke-width="1.8"/>
<line x1="1328.90" y1="13.10" x2="1344" y2="13.10" stroke="#000" stroke-width="1.8"/>
<line x1="173.40" y1="558.10" x2="173.40" y2="565.4" stroke="#000" stroke-width="1.8"/>
<line x1="246.64" y1="558.10" x2="246.64" y2="565.4" stroke="#000" stroke-width="1.8"/>
<line x1="319.88" y1="558.10" x2="319.88" y2="565.4" stroke="#000" stroke-width="1.8"/>
<line x1="393.12" y1="558.10" x2="393.12" y2="565.4" stroke="#000" stroke-width="1.8"/>
<line x1="466.36" y1="558.10" x2="466.36" y2="565.4" stroke="#000" stroke-width="1.8"/>
<line x1="539.60" y1="558.10" x2="539.60" y2="565.4" stroke="#000" stroke-width="1.8"/>
<line x1="612.84" y1="558.10" x2="612.84" y2="565.4" stroke="#000" stroke-width="1.8"/>
<line x1="686.08" y1="558.10" x2="686.08" y2="565.4" stroke="#000" stroke-width="1.8"/>
<line x1="759.32" y1="558.10" x2="759.32" y2="565.4" stroke="#000" stroke-width="1.8"/>
<line x1="832.56" y1="558.10" x2="832.56" y2="565.4" stroke="#000" stroke-width="1.8"/>
<line x1="905.80" y1="558.10" x2="905.80" y2="565.4" stroke="#000" stroke-width="1.8"/>
<line x1="979.04" y1="558.10" x2="979.04" y2="565.4" stroke="#000" stroke-width="1.8"/>
<line x1="1052.28" y1="558.10" x2="1052.28" y2="565.4" stroke="#000" stroke-width="1.8"/>
<line x1="1125.52" y1="558.10" x2="1125.52" y2="565.4" stroke="#000" stroke-width="1.8"/>
<line x1="1198.76" y1="558.10" x2="1198.76" y2="565.4" stroke="#000" stroke-width="1.8"/>
<line x1="1272.00" y1="558.10" x2="1272.00" y2="565.4" stroke="#000" stroke-width="1.8"/>
<text x="155" y="564.00" text-anchor="end" class="t">0</text>
<text x="155" y="521.20" text-anchor="end" class="t">5</text>
<text x="155" y="478.39" text-anchor="end" class="t"><tspan class="o1">1</tspan>0</text>
<text x="155" y="435.59" text-anchor="end" class="t"><tspan class="o1">1</tspan>5</text>
<text x="155" y="392.78" text-anchor="end" class="t">20</text>
<text x="155" y="349.98" text-anchor="end" class="t">25</text>
<text x="155" y="307.17" text-anchor="end" class="t">30</text>
<text x="155" y="264.37" text-anchor="end" class="t">35</text>
<text x="155" y="221.56" text-anchor="end" class="t">40</text>
<text x="155" y="178.76" text-anchor="end" class="t">45</text>
<text x="155" y="135.95" text-anchor="end" class="t">50</text>
<text x="155" y="93.15" text-anchor="end" class="t">55</text>
<text x="155" y="50.34" text-anchor="end" class="t">60</text>
<text x="1347.5" y="564.50" class="t">0</text>
<text x="1347.5" y="496.38" class="t"><tspan class="o1">1</tspan>0</text>
<text x="1347.5" y="428.25" class="t">20</text>
<text x="1347.5" y="360.12" class="t">30</text>
<text x="1347.5" y="292.00" class="t">40</text>
<text x="1347.5" y="223.88" class="t">50</text>
<text x="1347.5" y="155.75" class="t">60</text>
<text x="1347.5" y="87.63" class="t">70</text>
<text x="1347.5" y="19.50" class="t">80</text>
<text x="173.40" y="590.4" text-anchor="middle" class="t">0</text>
<text x="246.64" y="590.4" text-anchor="middle" class="t">0,2</text>
<text x="319.88" y="590.4" text-anchor="middle" class="t">0,4</text>
<text x="393.12" y="590.4" text-anchor="middle" class="t">0,6</text>
<text x="466.36" y="590.4" text-anchor="middle" class="t">0,8</text>
<text x="539.60" y="590.4" text-anchor="middle" class="t"><tspan class="o1">1</tspan></text>
<text x="612.84" y="590.4" text-anchor="middle" class="t"><tspan class="o1">1</tspan>,2</text>
<text x="686.08" y="590.4" text-anchor="middle" class="t"><tspan class="o1">1</tspan>,4</text>
<text x="759.32" y="590.4" text-anchor="middle" class="t"><tspan class="o1">1</tspan>,6</text>
<text x="832.56" y="590.4" text-anchor="middle" class="t"><tspan class="o1">1</tspan>,8</text>
<text x="905.80" y="590.4" text-anchor="middle" class="t">2</text>
<text x="979.04" y="590.4" text-anchor="middle" class="t">2,2</text>
<text x="1052.28" y="590.4" text-anchor="middle" class="t">2,4</text>
<text x="1125.52" y="590.4" text-anchor="middle" class="t">2,6</text>
<text x="1198.76" y="590.4" text-anchor="middle" class="t">2,8</text>
<text x="1272.00" y="590.4" text-anchor="middle" class="t">3</text>
<text x="1113.5" y="46.5" class="c">6</text>
<text x="1122.5" y="98.9" class="c">8</text>
<text x="1140" y="146.5" class="c"><tspan class="o1">1</tspan>0</text>
<text x="1150" y="197" class="c"><tspan class="o1">1</tspan>2</text>
<text x="1168.4" y="243.4" class="c"><tspan class="o1">1</tspan>4</text>
<text x="1185.4" y="288.6" class="c"><tspan class="o1">1</tspan>6 m</text>
<text x="751.4" y="635.2" text-anchor="middle" class="h">Potencia [kW]</text>
<text transform="translate(97,285.5) rotate(-90)" text-anchor="middle" class="h">Output [m³/h]</text>
<text transform="translate(1419.8,285) rotate(90)" text-anchor="middle" class="h">Eficiencia [%]</text>
<path d="M860,0L600,0L600,1000C500,905 370,840 215,800L215,1040C300,1068 390,1115 470,1175C560,1245 615,1320 645,1409L860,1409Z" transform="translate(131.062,478.390) scale(0.010498,-0.010498)" fill="#000"/>
<path d="M860,0L600,0L600,1000C500,905 370,840 215,800L215,1040C300,1068 390,1115 470,1175C560,1245 615,1320 645,1409L860,1409Z" transform="translate(131.062,435.590) scale(0.010498,-0.010498)" fill="#000"/>
<path d="M860,0L600,0L600,1000C500,905 370,840 215,800L215,1040C300,1068 390,1115 470,1175C560,1245 615,1320 645,1409L860,1409Z" transform="translate(1347.500,496.380) scale(0.010498,-0.010498)" fill="#000"/>
<path d="M860,0L600,0L600,1000C500,905 370,840 215,800L215,1040C300,1068 390,1115 470,1175C560,1245 615,1320 645,1409L860,1409Z" transform="translate(533.616,590.400) scale(0.010498,-0.010498)" fill="#000"/>
<path d="M860,0L600,0L600,1000C500,905 370,840 215,800L215,1040C300,1068 390,1115 470,1175C560,1245 615,1320 645,1409L860,1409Z" transform="translate(597.887,590.400) scale(0.010498,-0.010498)" fill="#000"/>
<path d="M860,0L600,0L600,1000C500,905 370,840 215,800L215,1040C300,1068 390,1115 470,1175C560,1245 615,1320 645,1409L860,1409Z" transform="translate(671.127,590.400) scale(0.010498,-0.010498)" fill="#000"/>
<path d="M860,0L600,0L600,1000C500,905 370,840 215,800L215,1040C300,1068 390,1115 470,1175C560,1245 615,1320 645,1409L860,1409Z" transform="translate(744.367,590.400) scale(0.010498,-0.010498)" fill="#000"/>
<path d="M860,0L600,0L600,1000C500,905 370,840 215,800L215,1040C300,1068 390,1115 470,1175C560,1245 615,1320 645,1409L860,1409Z" transform="translate(817.607,590.400) scale(0.010498,-0.010498)" fill="#000"/>
<path d="M860,0L600,0L600,1000C500,905 370,840 215,800L215,1040C300,1068 390,1115 470,1175C560,1245 615,1320 645,1409L860,1409Z" transform="translate(1140.000,146.500) scale(0.012207,-0.012207)" fill="#000"/>
<path d="M860,0L600,0L600,1000C500,905 370,840 215,800L215,1040C300,1068 390,1115 470,1175C560,1245 615,1320 645,1409L860,1409Z" transform="translate(1150.000,197.000) scale(0.012207,-0.012207)" fill="#000"/>
<path d="M860,0L600,0L600,1000C500,905 370,840 215,800L215,1040C300,1068 390,1115 470,1175C560,1245 615,1320 645,1409L860,1409Z" transform="translate(1168.400,243.400) scale(0.012207,-0.012207)" fill="#000"/>
<path d="M860,0L600,0L600,1000C500,905 370,840 215,800L215,1040C300,1068 390,1115 470,1175C560,1245 615,1320 645,1409L860,1409Z" transform="translate(1185.400,288.600) scale(0.012207,-0.012207)" fill="#000"/>
</svg>
</body></html>
